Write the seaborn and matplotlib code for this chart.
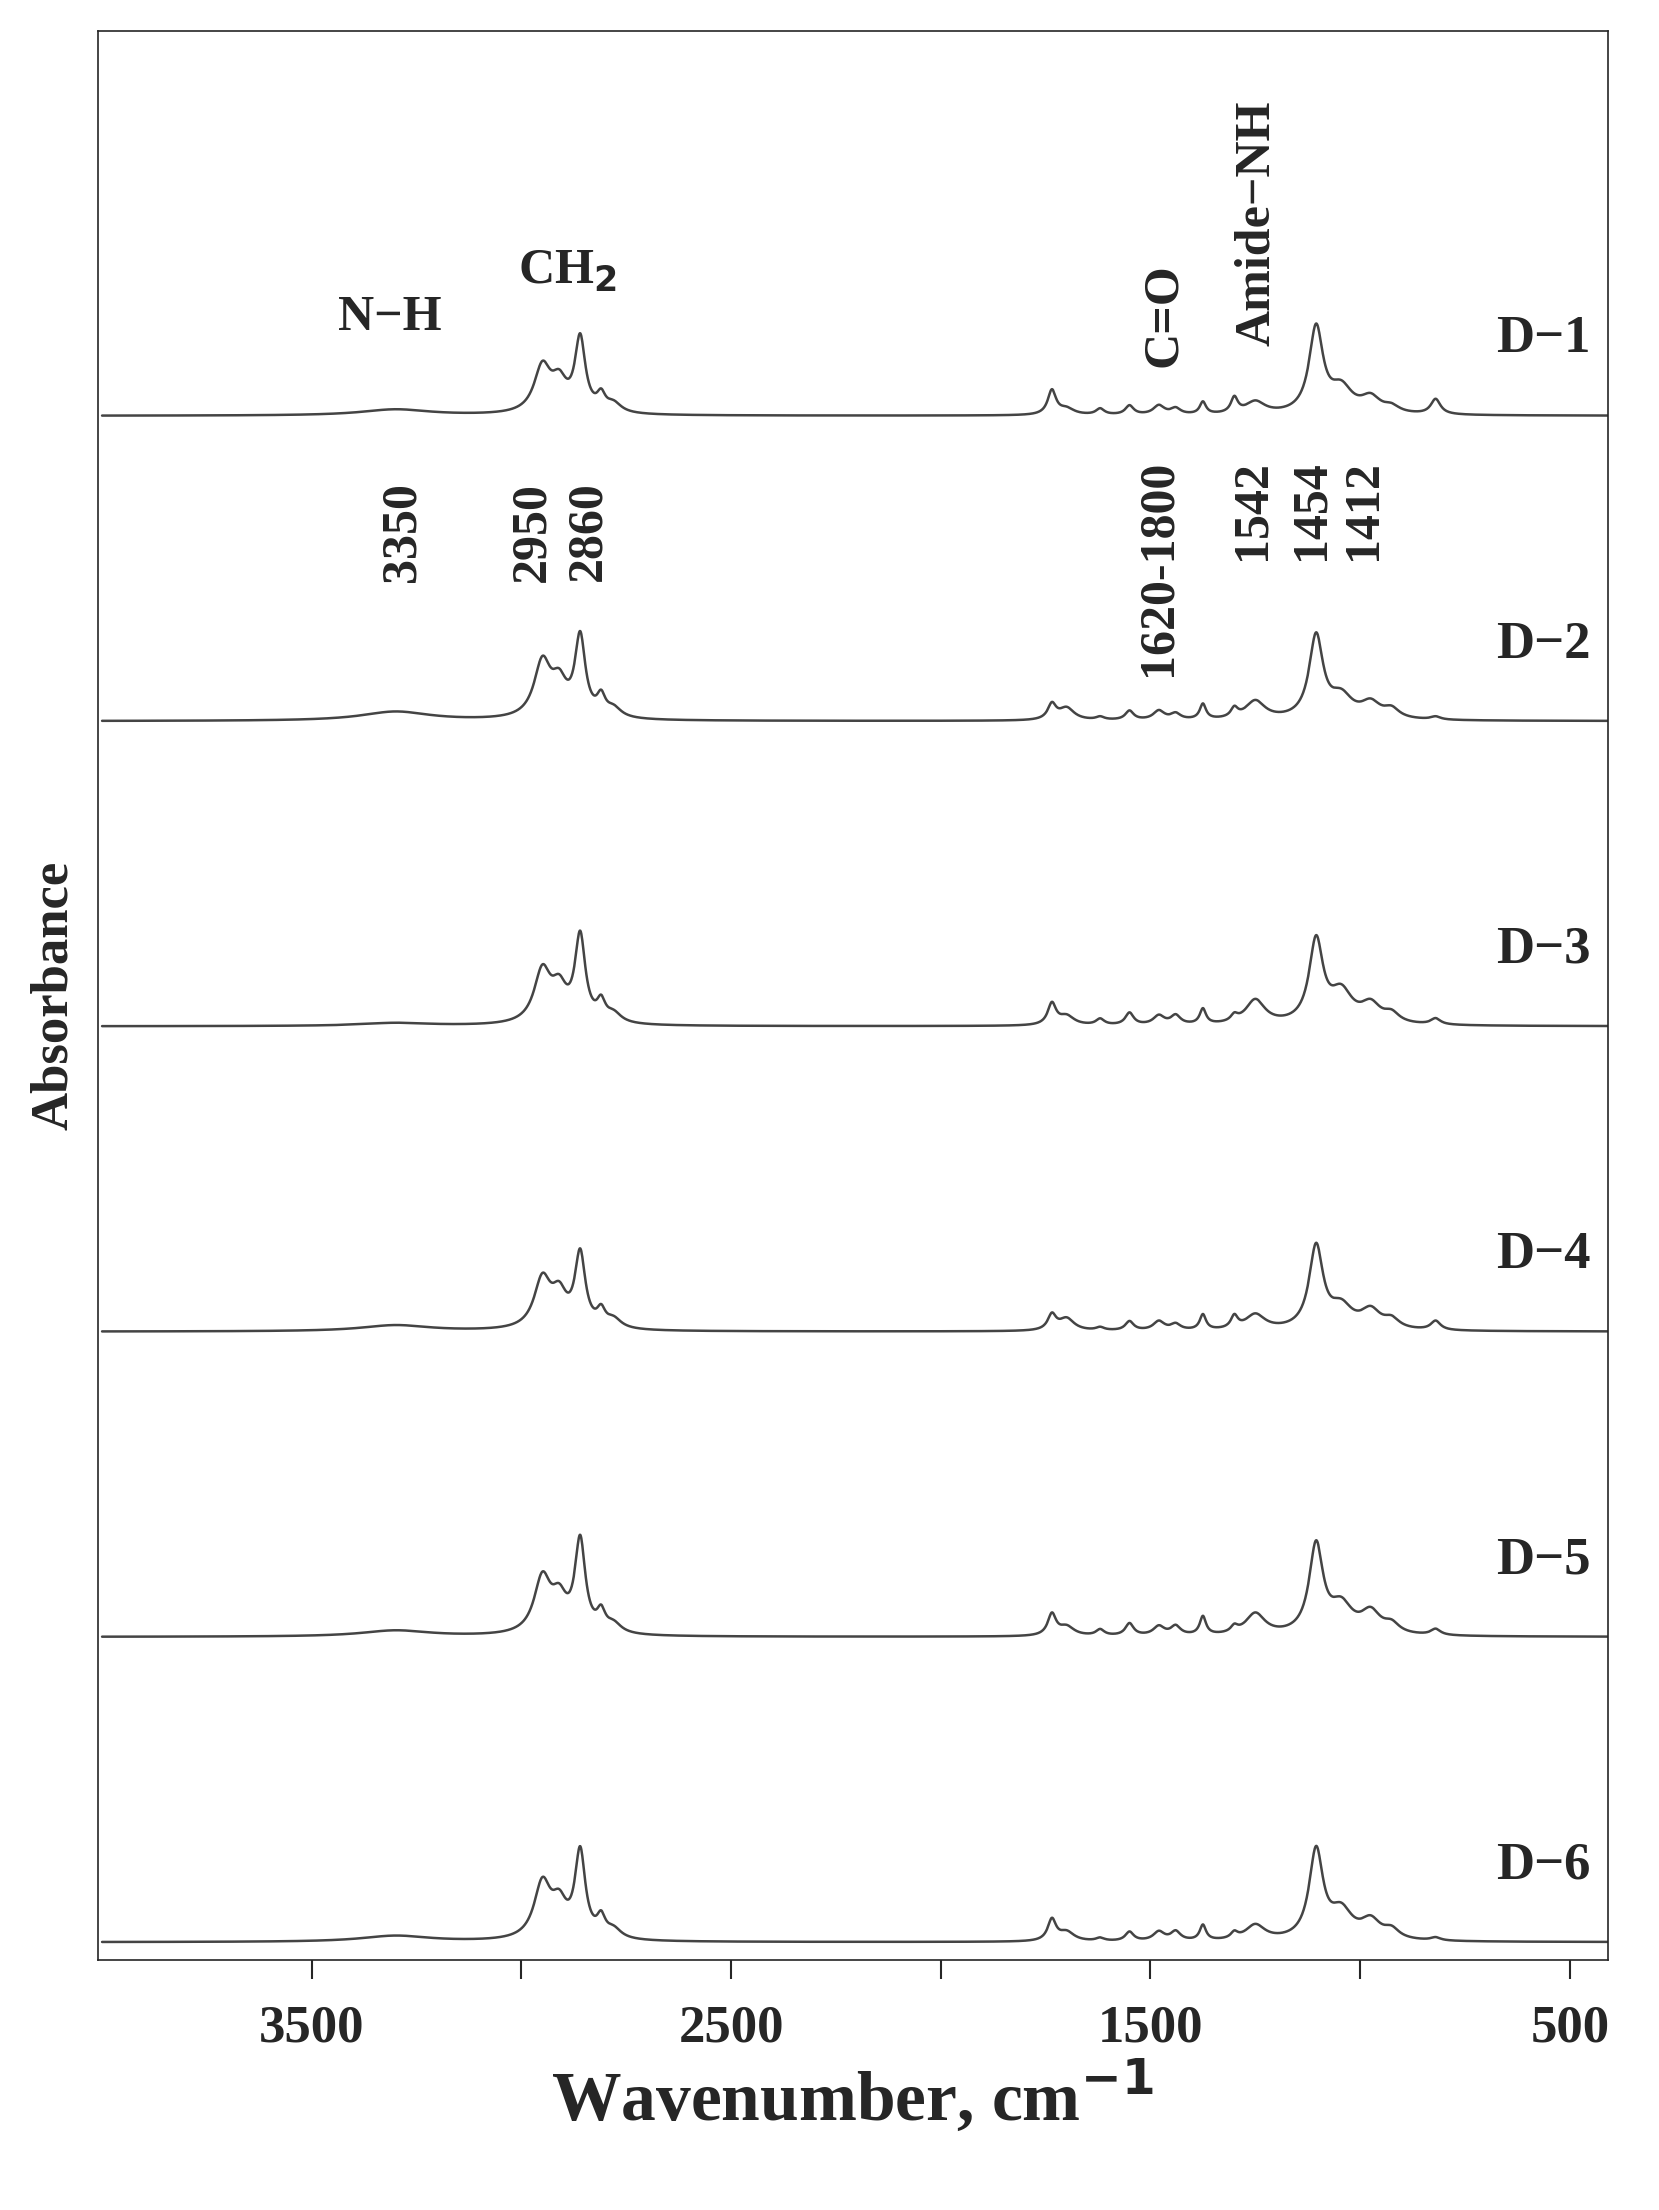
import numpy as np
import pandas as pd
import matplotlib.pyplot as plt
import seaborn as sns

# peak centres (cm-1) and widths
centers = [3300, 2950, 2910, 2860, 2810, 2780, 1735, 1700, 1620, 1550, 1480, 1440, 1375, 1300, 1250, 1105, 1045, 975, 925, 820]
widths = [100, 24, 22, 15, 12, 22, 12, 22, 12, 12, 16, 14, 9, 10, 28, 20, 32, 28, 22, 14]

# peak heights per sample
heights = {
    'D\u22121': [0.02, 0.15, 0.09, 0.24, 0.05, 0.03, 0.08, 0.02, 0.02, 0.03, 0.03, 0.02, 0.04, 0.05, 0.04, 0.28, 0.08, 0.05, 0.02, 0.05],
    'D\u22122': [0.03, 0.18, 0.10, 0.26, 0.06, 0.03, 0.05, 0.04, 0.01, 0.03, 0.03, 0.02, 0.05, 0.03, 0.06, 0.27, 0.07, 0.05, 0.03, 0.01],
    'D\u22123': [0.01, 0.17, 0.10, 0.28, 0.06, 0.03, 0.07, 0.03, 0.02, 0.04, 0.03, 0.03, 0.05, 0.02, 0.08, 0.27, 0.10, 0.06, 0.03, 0.02],
    'D\u22124': [0.02, 0.16, 0.10, 0.24, 0.05, 0.03, 0.05, 0.04, 0.01, 0.03, 0.03, 0.02, 0.05, 0.04, 0.05, 0.27, 0.07, 0.06, 0.03, 0.03],
    'D\u22125': [0.02, 0.18, 0.10, 0.30, 0.06, 0.03, 0.07, 0.03, 0.02, 0.04, 0.03, 0.03, 0.06, 0.02, 0.07, 0.29, 0.09, 0.07, 0.03, 0.02],
    'D\u22126': [0.02, 0.18, 0.10, 0.28, 0.06, 0.03, 0.07, 0.03, 0.01, 0.03, 0.03, 0.03, 0.05, 0.02, 0.05, 0.29, 0.09, 0.06, 0.03, 0.01],
}
offsets = [5, 4, 3, 2, 1, 0]

wn = np.linspace(4000, 400, 3000)
rows = []
for (name, h), off in zip(heights.items(), offsets):
    y = np.zeros_like(wn)
    for c, w, a in zip(centers, widths, h):
        y += a / (1 + ((wn - c) / w) ** 2)
    y -= y.min()
    rows.append(pd.DataFrame({'wn': wn, 'abs': y + off, 'sample': name}))
df = pd.concat(rows)

sns.set_style('ticks')
plt.rcParams['font.family'] = ['Liberation Serif', 'DejaVu Serif']
plt.rcParams['font.weight'] = 'bold'

fig = plt.figure(figsize=(16.59, 22.1), dpi=100)
ax = fig.add_axes([0.059, 0.113, 0.910, 0.873])
sns.lineplot(data=df, x='wn', y='abs', units='sample', estimator=None, color='#444444', lw=1.8, ax=ax, legend=False)

ax.set_xlim(4010, 410)
ax.set_ylim(-0.06, 6.26)
ax.set_yticks([])
ax.set_xticks([3500, 3000, 2500, 2000, 1500, 1000, 500])
ax.set_xticklabels(['3500', '', '2500', '', '1500', '', '500'])
ax.tick_params(axis='x', direction='out', length=14, width=1.5, labelsize=38, pad=18)
for s in ax.spines.values():
    s.set_linewidth(1.2)

ax.set_xlabel('Wavenumber, cm$^{\\mathbf{-1}}$', fontsize=50, fontweight='bold', labelpad=4)
ax.set_ylabel('Absorbance', fontsize=38, fontweight='bold', labelpad=14)

for name, off in zip(heights, offsets):
    ax.text(450, off + 0.25, name, fontsize=38, fontweight='bold', ha='right', va='center')

kw = dict(fontsize=36, fontweight='bold', ha='center', va='center')
ax.text(3313, 5.32, 'N\u2212H', **kw)
ax.text(2890, 5.47, 'CH$_\\mathbf{2}$', **kw)
ax.text(1467, 5.33, 'C=O', rotation=90, **kw)
ax.text(1247, 5.63, 'Amide\u2212NH', rotation=90, **kw)
for x, y, t in [(3283, 4.62, '3350'), (2973, 4.62, '2950'), (2840, 4.62, '2860'),
                (1480, 4.5, '1620-1800'), (1257, 4.69, '1542'), (1117, 4.69, '1454'), (990, 4.69, '1412')]:
    ax.text(x, y, t, rotation=90, **kw)

fig.savefig('out.png', dpi=100)
